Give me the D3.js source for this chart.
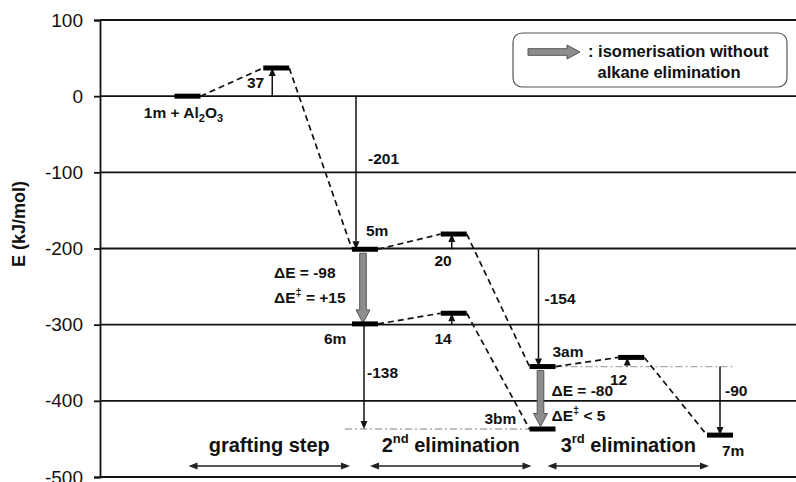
<!DOCTYPE html>
<html>
<head>
<meta charset="utf-8">
<script src="https://cdn.jsdelivr.net/npm/d3@7"></script>
<style>
  html, body { margin: 0; padding: 0; background: #fff; }
  svg { display: block; }
  text { font-family: "Liberation Sans", Arial, sans-serif; fill: #111; }
</style>
</head>
<body>
<svg id="chart" width="796" height="482"></svg>
<script>
// Energy levels (kJ/mol) placed in slots along the reaction coordinate
const levelNames    = ["1m + Al2O3", "TS grafting", "5m", "TS 5m", "6m", "TS 6m", "3am", "3bm", "TS 3am", "7m"];
const levelSlots    = [0, 1, 2, 3, 2, 3, 4, 4, 5, 6];
const levelEnergies = [0, 37, -201, -181, -299, -285, -355, -437, -343, -445];

// Dashed reaction paths, as index pairs into the level arrays
const pathFrom = [0, 1, 2, 3, 4, 5, 6, 8];
const pathTo   = [1, 2, 3, 6, 5, 7, 8, 9];

// Energy differences drawn as thin arrows
const stepSlots  = [1, 2, 3, 3, 2, 4, 5, 6];
const stepStart  = [0, 0, -201, -299, -299, -201, -355, -355];
const stepDelta  = [37, -201, 20, 14, -138, -154, 12, -90];

// Isomerisations without alkane elimination (grey arrows)
const isoSlots   = [2, 4];
const isoStart   = [-201, -355];
const isoDelta   = [-98, -80];
const isoBarrier = ["= +15", "< 5"];

// Reference levels drawn as light dash-dot lines
const refEnergies = [-437, -355];

// Axis ticks and reaction phases
const yTicks     = [100, 0, -100, -200, -300, -400, -500];
const phaseNames = ["grafting step", "2", "3"];
const phaseSup   = ["", "nd", "rd"];
const phaseFrom  = [0, 2, 4];
const phaseTo    = [2, 4, 6];

const svg = d3.select("#chart");
const W = 796;

const x = d3.scaleLinear().domain([0, 6]).range([187.5, 720]);
const y = d3.scaleLinear().domain([-500, 100]).range([477, 20]);
const axisX = 100;
const halfBar = 13;

// ---- grid and axis ----
const grid = svg.append("g");
grid.selectAll("line").data(yTicks).join("line")
  .attr("x1", axisX).attr("x2", W)
  .attr("y1", d => y(d)).attr("y2", d => y(d))
  .attr("stroke", "#111").attr("stroke-width", 1.8);

const yAxis = d3.axisLeft(y).tickValues(yTicks).tickSize(6).tickPadding(11)
  .tickFormat(d => String(d));
const ya = svg.append("g").attr("transform", `translate(${axisX},0)`).call(yAxis);
ya.select(".domain").attr("stroke", "#111").attr("stroke-width", 1.8);
ya.selectAll(".tick line").attr("stroke", "#111").attr("stroke-width", 1.8);
ya.selectAll(".tick text")
  .attr("font-size", 19).attr("fill", "#111")
  .style("font-family", "'Liberation Sans', Arial, sans-serif");

svg.append("text")
  .attr("transform", "translate(25,224) rotate(-90)")
  .attr("text-anchor", "middle")
  .attr("font-size", 18).attr("font-weight", "bold")
  .text("E (kJ/mol)");

// ---- reference dash-dot lines ----
const refSpans = [[x(2) - 20, x(4) - halfBar], [x(4) + halfBar, x(6) + halfBar]];
svg.append("g").selectAll("line").data(refEnergies).join("line")
  .attr("x1", (d, i) => refSpans[i][0]).attr("x2", (d, i) => refSpans[i][1])
  .attr("y1", d => y(d)).attr("y2", d => y(d))
  .attr("stroke", "#aaa").attr("stroke-width", 1.3)
  .attr("stroke-dasharray", "7,3,2,3");

// ---- dashed reaction paths ----
svg.append("g").selectAll("line").data(pathFrom).join("line")
  .attr("x1", d => x(levelSlots[d]) + halfBar)
  .attr("y1", d => y(levelEnergies[d]))
  .attr("x2", (d, i) => x(levelSlots[pathTo[i]]) - halfBar)
  .attr("y2", (d, i) => y(levelEnergies[pathTo[i]]))
  .attr("stroke", "#111").attr("stroke-width", 1.7)
  .attr("stroke-dasharray", "6,4");

// ---- thin energy-difference arrows ----
const stepDx = [-4, -9, -2, -2, -1, -4, -4, 0];
const arrows = svg.append("g");
stepSlots.forEach((s, i) => {
  const ax = x(s) + stepDx[i];
  const y0 = y(stepStart[i]);
  const y1 = y(stepStart[i] + stepDelta[i]);
  const dir = y1 > y0 ? 1 : -1;
  const head = 8;
  arrows.append("line")
    .attr("x1", ax).attr("x2", ax)
    .attr("y1", y0).attr("y2", y1 - dir * head)
    .attr("stroke", "#111").attr("stroke-width", 1.5);
  arrows.append("path")
    .attr("d", `M${ax - 3.5},${y1 - dir * head} L${ax + 3.5},${y1 - dir * head} L${ax},${y1} Z`)
    .attr("fill", "#111");
});

// ---- grey isomerisation arrows ----
function greyArrow(g, x0, y0, x1, y1) {
  // block arrow from (x0,y0) to (x1,y1)
  const len = Math.hypot(x1 - x0, y1 - y0);
  const ang = Math.atan2(y1 - y0, x1 - x0) * 180 / Math.PI;
  const sw = 3.3, hw = 7, hl = 13;
  g.append("path")
    .attr("transform", `translate(${x0},${y0}) rotate(${ang})`)
    .attr("d", `M0,${-sw} L${len - hl},${-sw} L${len - hl},${-hw} L${len},0 L${len - hl},${hw} L${len - hl},${sw} L0,${sw} Z`)
    .attr("fill", "#8d8d8d").attr("stroke", "#555").attr("stroke-width", 1);
}
const isoG = svg.append("g");
isoSlots.forEach((s, i) => {
  const ax = x(s) - 2;
  greyArrow(isoG, ax, y(isoStart[i]) + 4, ax, y(isoStart[i] + isoDelta[i]) - 1);
});

// ---- energy level bars ----
svg.append("g").selectAll("line").data(levelEnergies).join("line")
  .attr("x1", (d, i) => x(levelSlots[i]) - halfBar)
  .attr("x2", (d, i) => x(levelSlots[i]) + halfBar)
  .attr("y1", d => y(d)).attr("y2", d => y(d))
  .attr("stroke", "#000").attr("stroke-width", 5);

// ---- labels ----
const lab = svg.append("g").attr("font-size", 15.5).attr("font-weight", "bold");
function label(txt, px, py, anchor) {
  return lab.append("text").attr("x", px).attr("y", py)
    .attr("text-anchor", anchor || "start").text(txt);
}

// species names
const t1 = lab.append("text").attr("x", x(levelSlots[0]) - 4).attr("y", y(levelEnergies[0]) + 22)
  .attr("text-anchor", "middle");
t1.append("tspan").text("1m + Al");
t1.append("tspan").attr("font-size", 11).attr("dy", 4).text("2");
t1.append("tspan").attr("dy", -4).text("O");
t1.append("tspan").attr("font-size", 11).attr("dy", 4).text("3");

label(levelNames[2], x(levelSlots[2]) + 1, y(levelEnergies[2]) - 13);
label(levelNames[4], x(levelSlots[4]) - 41, y(levelEnergies[4]) + 20);
label(levelNames[6], x(levelSlots[6]) + 10, y(levelEnergies[6]) - 10);
label(levelNames[7], x(levelSlots[7]) - 58, y(levelEnergies[7]) - 5);
label(levelNames[9], x(levelSlots[9]) + 2, y(levelEnergies[9]) + 21);

// step values, placed part-way along their arrows
const fmt = d => String(d);
label(fmt(stepDelta[0]), x(stepSlots[0]) - 12, y(stepStart[0]) - 8, "end");
label(fmt(stepDelta[1]), x(stepSlots[1]) + 3, y(stepStart[1] + stepDelta[1] * 0.44));
label(fmt(stepDelta[2]), x(stepSlots[2]) - 2, y(stepStart[2]) + 17, "end");
label(fmt(stepDelta[3]), x(stepSlots[3]) - 2, y(stepStart[3]) + 20, "end");
label(fmt(stepDelta[4]), x(stepSlots[4]) + 2, y(stepStart[4] + stepDelta[4] * 0.51));
label(fmt(stepDelta[5]), x(stepSlots[5]) + 2, y(stepStart[5] + stepDelta[5] * 0.47));
label(fmt(stepDelta[6]), x(stepSlots[6]) - 4, y(stepStart[6]) + 18, "end");
label(fmt(stepDelta[7]), x(stepSlots[7]) + 5, y(stepStart[7] + stepDelta[7] * 0.43));

// isomerisation energies
const isoDx = [-91, 9];
isoSlots.forEach((s, i) => {
  const tx = x(s) + isoDx[i];
  const ty = y(isoStart[i]);
  lab.append("text").attr("x", tx).attr("y", ty + 29).text("\u0394E = " + isoDelta[i]);
  const b = lab.append("text").attr("x", tx).attr("y", ty + 54);
  b.append("tspan").text("\u0394E");
  b.append("tspan").attr("font-size", 11).attr("dy", -7).text("\u2021");
  b.append("tspan").attr("dy", 7).text(" " + isoBarrier[i]);
});

// ---- reaction phases ----
const phG = svg.append("g");
phaseNames.forEach((nm, i) => {
  const ax0 = x(phaseFrom[i]) + (i === 0 ? 1 : 5);
  const ax1 = x(phaseTo[i]) - (i === 0 ? 15 : 11);
  const ay = 466;
  phG.append("line").attr("x1", ax0 + 7).attr("x2", ax1 - 7)
    .attr("y1", ay).attr("y2", ay).attr("stroke", "#222").attr("stroke-width", 1.5);
  phG.append("path").attr("d", `M${ax0},${ay} L${ax0 + 9},${ay - 3.5} L${ax0 + 9},${ay + 3.5} Z`).attr("fill", "#222");
  phG.append("path").attr("d", `M${ax1},${ay} L${ax1 - 9},${ay - 3.5} L${ax1 - 9},${ay + 3.5} Z`).attr("fill", "#222");
  const t = phG.append("text").attr("x", (ax0 + ax1) / 2).attr("y", 452)
    .attr("text-anchor", "middle").attr("font-size", 20).attr("font-weight", "bold");
  if (phaseSup[i]) {
    t.append("tspan").text(nm);
    t.append("tspan").attr("font-size", 13).attr("dy", -9).text(phaseSup[i]);
    t.append("tspan").attr("dy", 9).text(" elimination");
  } else {
    t.text(nm);
  }
});

// ---- legend ----
const lg = svg.append("g");
lg.append("rect").attr("x", 513).attr("y", 33).attr("width", 274).attr("height", 54)
  .attr("rx", 9).attr("fill", "#fff").attr("stroke", "#555").attr("stroke-width", 1.2);
greyArrow(lg, 528, 52, 580, 52);
lg.append("text").attr("x", 588).attr("y", 57).attr("font-size", 16.5).attr("font-weight", "bold")
  .text(": isomerisation without");
lg.append("text").attr("x", 669).attr("y", 78).attr("text-anchor", "middle")
  .attr("font-size", 16.5).attr("font-weight", "bold")
  .text("alkane elimination");
</script>
</body>
</html>
